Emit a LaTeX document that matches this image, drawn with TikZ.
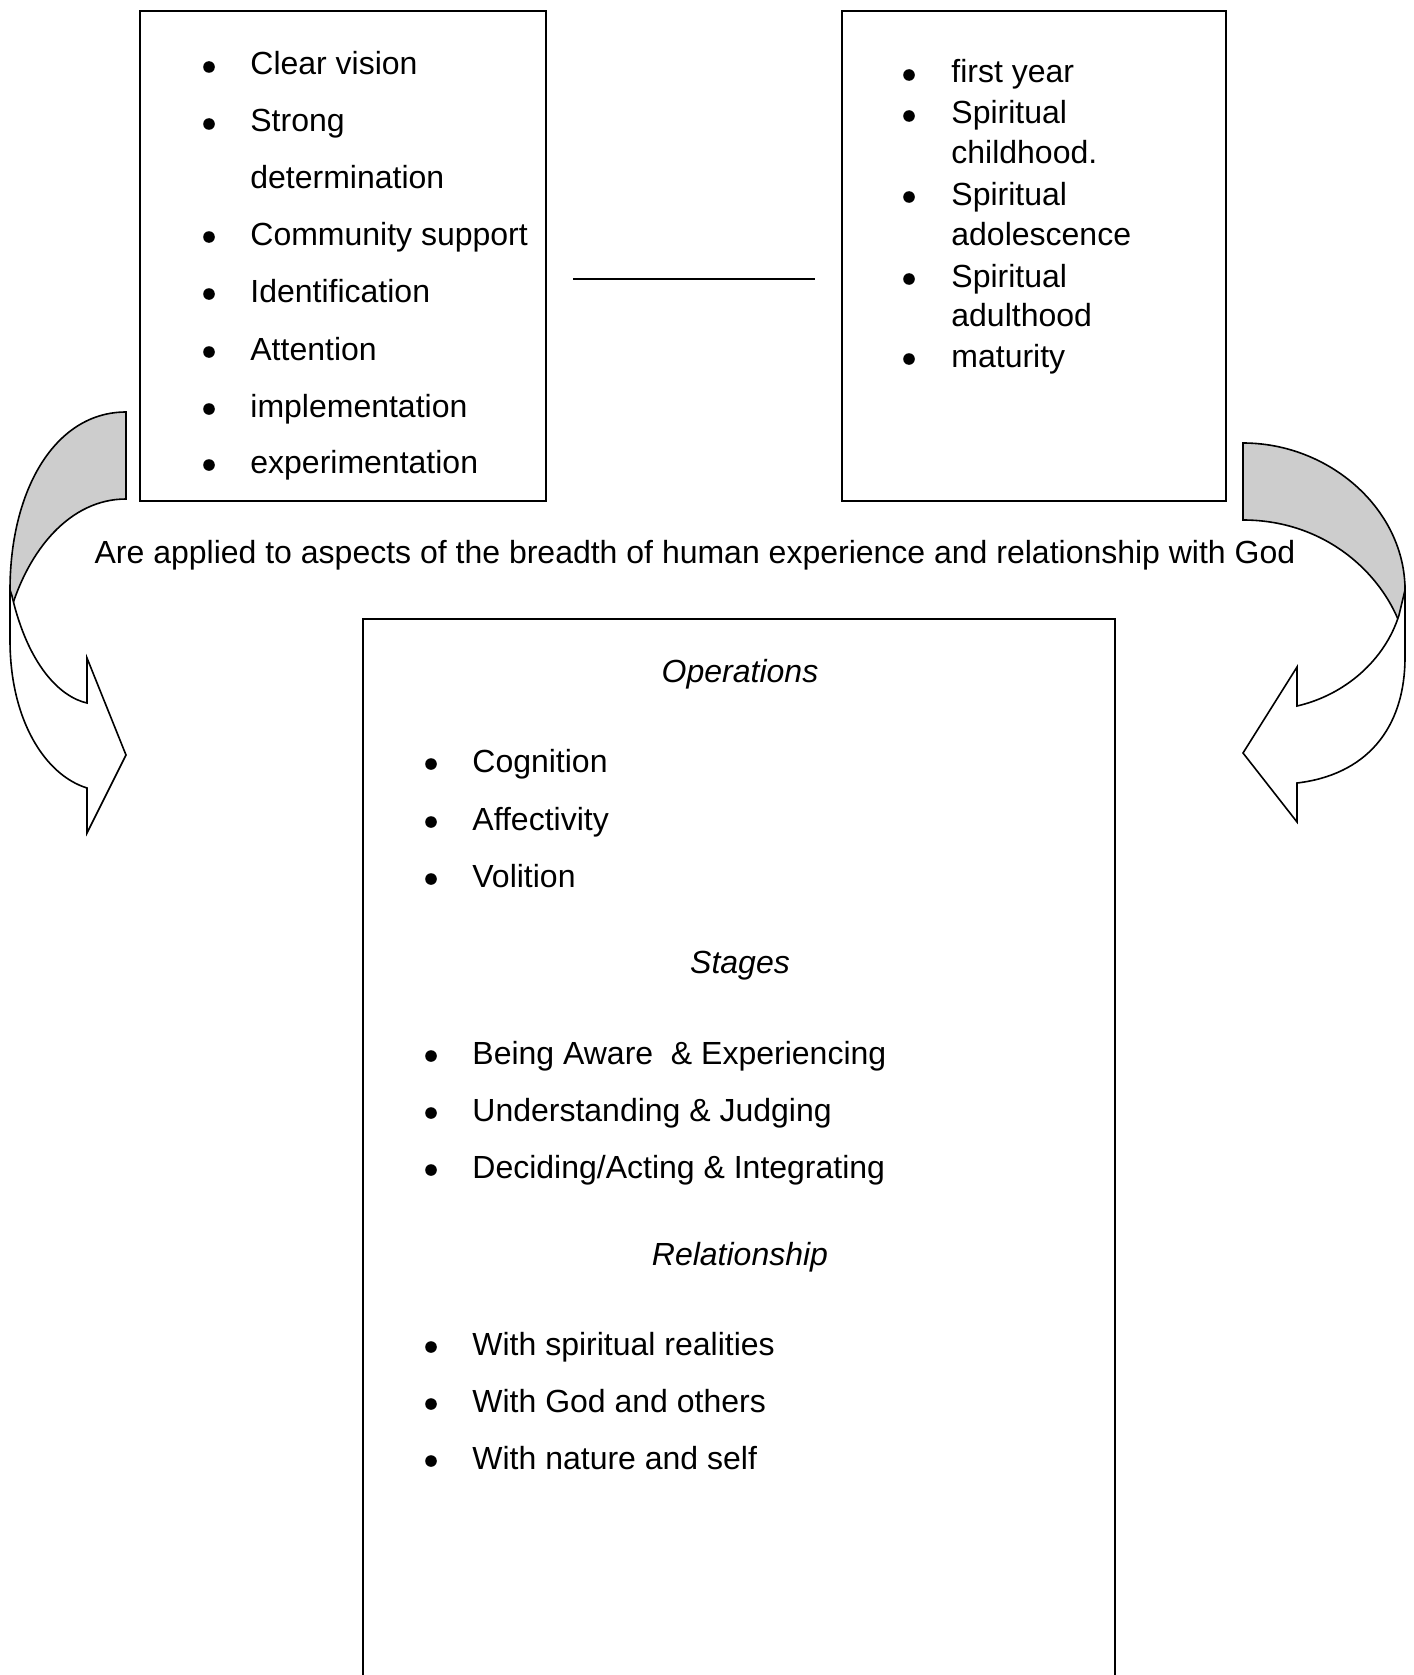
\documentclass[tikz,border=0pt]{standalone}
\usepackage{fontspec}
\setmainfont{Liberation Sans}
\newcommand\dfont{\fontsize{16}{19}\selectfont}
\definecolor{shade}{RGB}{205,205,205}
\begin{document}
\begin{tikzpicture}[x=0.5pt,y=-0.5pt,
  box/.style={draw, line width=1pt, inner sep=0pt, anchor=north west},
  txt/.style={inner sep=0pt, anchor=base west, font=\dfont},
  hd/.style={inner sep=0pt, anchor=base, font=\dfont\itshape},
  bul/.style={circle, fill=black, inner sep=0pt, minimum size=5.8pt},
  arr/.style={draw=black, line width=0.8pt, line join=miter},
]
\useasboundingbox (0,0) rectangle (1413,1675);

% boxes
\node[box, minimum width=203pt, minimum height=245pt] (L) at (139,10) {};
\node[box, minimum width=192pt, minimum height=245pt] (R) at (841,10) {};
\node[inner sep=0pt, anchor=north west, minimum width=375.5pt, minimum height=528pt] (B) at (363,619) {};
\draw[line width=1pt] (B.south west) |- (B.north east) -- (B.south east);

% connector between top boxes
\draw[line width=0.8pt] ([xshift=13pt,yshift=-11.5pt]L.east) -- ([xshift=-13pt,yshift=-11.5pt]R.west);

% left box list
\node[bul] (lb1) at (209,67) {};  \node[txt] (lt1) at (250,75) {Clear vision};
\node[bul] (lb2) at (209,124) {}; \node[txt] (lt2) at (250,132) {Strong};
                                  \node[txt] (lt2b) at (250,188) {determination};
\node[bul] (lb3) at (209,237) {}; \node[txt] (lt3) at (250,245) {Community support};
\node[bul] (lb4) at (209,294) {}; \node[txt] (lt4) at (250,302) {Identification};
\node[bul] (lb5) at (209,352) {}; \node[txt] (lt5) at (250,360) {Attention};
\node[bul] (lb6) at (209,409) {}; \node[txt] (lt6) at (250,417) {implementation};
\node[bul] (lb7) at (209,465) {}; \node[txt] (lt7) at (250,473) {experimentation};

% right box list
\node[bul] (rb1) at (909,75) {};  \node[txt] (rt1) at (951,83) {first year};
\node[bul] (rb2) at (909,116) {}; \node[txt] (rt2) at (951,124) {Spiritual};
                                  \node[txt] (rt2b) at (951,163) {childhood.};
\node[bul] (rb3) at (909,197) {}; \node[txt] (rt3) at (951,205) {Spiritual};
                                  \node[txt] (rt3b) at (951,245) {adolescence};
\node[bul] (rb4) at (909,279) {}; \node[txt] (rt4) at (951,287) {Spiritual};
                                  \node[txt] (rt4b) at (951,326) {adulthood};
\node[bul] (rb5) at (909,359) {}; \node[txt] (rt5) at (951,367) {maturity};

% caption
\node[inner sep=0pt, anchor=base, font=\dfont] (cap) at (695,563)
  {Are applied to aspects of the breadth of human experience and relationship with God};

% bottom box content
\node[hd] (h1) at (740,682) {Operations};
\node[bul] (bb1) at (431,764) {};  \node[txt] (bt1) at (472,772) {Cognition};
\node[bul] (bb2) at (431,822) {};  \node[txt] (bt2) at (472,830) {Affectivity};
\node[bul] (bb3) at (431,879) {};  \node[txt] (bt3) at (472,887) {Volition};
\node[hd] (h2) at (740,973) {Stages};
\node[bul] (bb4) at (431,1056) {}; \node[txt] (bt4) at (472,1064) {Being Aware\ \ \& Experiencing};
\node[bul] (bb5) at (431,1113) {}; \node[txt] (bt5) at (472,1121) {Understanding \& Judging};
\node[bul] (bb6) at (431,1170) {}; \node[txt] (bt6) at (472,1178) {Deciding/Acting \& Integrating};
\node[hd] (h3) at (740,1265) {Relationship};
\node[bul] (bb7) at (431,1347) {}; \node[txt] (bt7) at (472,1355) {With spiritual realities};
\node[bul] (bb8) at (431,1404) {}; \node[txt] (bt8) at (472,1412) {With God and others};
\node[bul] (bb9) at (431,1461) {}; \node[txt] (bt9) at (472,1469) {With nature and self};

% left curved arrow
\path[arr, fill=shade] (126,412) .. controls (55,412) and (10,490) .. (10,590)
  -- (10,613) .. controls (28,550) and (70,499) .. (126,499) -- cycle;
\path[arr, fill=white] (10,590) -- (10,640) .. controls (10,720) and (45,775) .. (87,788)
  -- (87,833) -- (126,755) -- (87,658) -- (87,703)
  .. controls (60,697) and (28,665) .. (12,596) -- cycle;

% right curved arrow
\path[arr, fill=shade] (1243,443) .. controls (1330,443) and (1405,510) .. (1405,590)
  -- (1405,640) .. controls (1390,580) and (1330,520) .. (1243,520) -- cycle;
\path[arr, fill=white] (1405,590) -- (1405,657) .. controls (1405,730) and (1365,775) .. (1297,783)
  -- (1297,822) -- (1243,753) -- (1297,667) -- (1297,706)
  .. controls (1345,695) and (1385,660) .. (1399,615) -- cycle;
\end{tikzpicture}
\end{document}
